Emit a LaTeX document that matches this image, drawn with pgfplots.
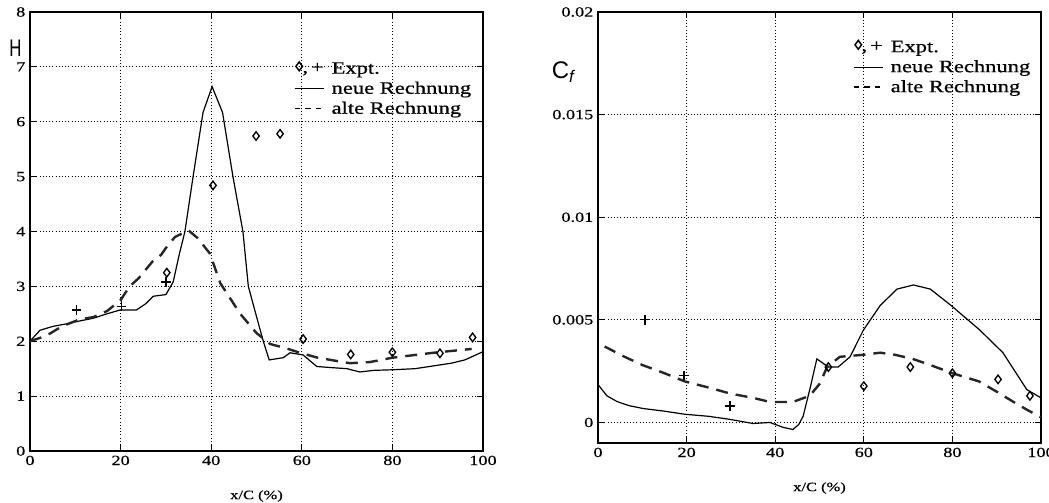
\documentclass[border=0pt]{standalone}
\usepackage{fontspec}
\setmainfont{Liberation Serif}
\newfontfamily\scanfont[FakeStretch=1.3, FakeBold=0.6]{Liberation Serif}
\newfontfamily\handfont{Liberation Sans}
\usepackage{pgfplots}
\pgfplotsset{compat=1.18}

\pgfplotsset{
  scan/.style={
    scale only axis, anchor=south west, clip mode=individual,
    xmin=0, xmax=100, xtick={0,20,...,100},
    grid=major, grid style={dotted, black, line width=0.6pt},
    axis line style={line width=1.1pt},
    tick style={black, line width=0.8pt},
    tick label style={font=\scanfont\fontsize{10.5}{11}\selectfont},
    /pgf/number format/assume math mode=true,
    xlabel={x/C (\%)}, xlabel style={font=\scanfont\fontsize{9.5}{10}\selectfont, yshift=-12pt},
    legend cell align=left,
    legend style={draw=none, fill=none, inner sep=0pt, column sep=3pt,
                  font=\scanfont\fontsize{13}{15}\selectfont, row sep=0.5pt},
  },
  neu/.style={black, line width=0.9pt},
  alt/.style={black!85, line width=1.8pt, dash pattern=on 9pt off 6pt},
  expd/.style={only marks, mark=diamond, mark size=3.2pt, black, line width=1pt},
  expp/.style={only marks, mark=+, mark size=3.5pt, black, line width=0.9pt},
  legexp/.style={legend image code/.code={
      \draw[mark=diamond, mark size=3.3pt, line width=1.1pt] plot coordinates {(0.12cm,0.07cm)};
      \node[anchor=base west, inner sep=0pt, font=\scanfont\fontsize{13}{15}\selectfont]
        at (0.2cm,-0.1cm) {,\,+};}},
  legneu/.style={legend image code/.code={\draw[line width=0.9pt] (0cm,0cm) -- (0.78cm,0cm);}},
  legalt/.style={legend image code/.code={\draw[line width=1.1pt, dash pattern=on 4pt off 4pt] (0cm,0cm) -- (0.78cm,0cm);}},
}

\begin{document}
\begin{tikzpicture}
\useasboundingbox (0,0) rectangle (786.75pt,377.25pt);

% ---- left: shape factor H
\begin{axis}[scan, at={(22.5pt,39pt)}, width=339.75pt, height=329.25pt,
  ymin=0, ymax=8, ytick={0,1,...,8},
  legend style={at={(0.582,0.892)}, anchor=north west}]
  \addlegendimage{legexp}\addlegendentry{Expt.}
  \addlegendimage{legneu}\addlegendentry{neue Rechnung}
  \addlegendimage{legalt}\addlegendentry{alte Rechnung}

  \addplot[neu, forget plot] coordinates {
    (0,2.0)(2.2,2.2)(5,2.27)(8.2,2.32)(11,2.37)(14,2.42)(17,2.5)(19.9,2.57)
    (23.5,2.57)(25.5,2.68)(27.2,2.82)(30,2.85)(31.6,3.08)(33,3.6)(34.2,4.0)
    (36,5.0)(38.2,6.17)(40.2,6.64)(42.5,6.17)(44.8,5.0)(47,4.0)(48.2,3.0)
    (50,2.45)(51.5,2.0)(52.8,1.66)(55.9,1.70)(57.4,1.79)(60.3,1.75)(63.3,1.54)
    (66.5,1.52)(70,1.50)(72.8,1.44)(76,1.47)(80,1.48)(85,1.5)(89,1.55)
    (93,1.6)(96,1.66)(100,1.81)};
  \addplot[alt, forget plot] coordinates {
    (0,2.0)(3.6,2.1)(7,2.27)(11,2.4)(14,2.44)(17,2.55)(20,2.75)(22,3.0)
    (24,3.15)(27,3.45)(29,3.58)(30,3.7)(32,3.9)(35,4.02)(37,3.88)(39.7,3.6)
    (42,3.06)(46.4,2.5)(50,2.15)(53,1.95)(56.6,1.87)(60,1.78)(63.5,1.7)
    (70.6,1.6)(75,1.62)(80,1.7)(89,1.79)(97.5,1.86)};
  \addplot[expd, forget plot] coordinates {
    (30.2,3.25)(40.4,4.84)(49.9,5.74)(55.2,5.78)(60.3,2.04)(70.8,1.76)
    (80,1.8)(90.5,1.78)(97.7,2.07)};
  \addplot[expp, forget plot] coordinates {
    (10.3,2.57)(20.2,2.64)(30,3.08)};

  \node[anchor=center, xscale=0.7, transform shape,
        font=\handfont\fontsize{18}{18}\selectfont]
    at (rel axis cs:-0.032,0.918) {H};
\end{axis}

% ---- right: skin friction Cf
\begin{axis}[scan, at={(448.5pt,45pt)}, width=332.25pt, height=323.25pt,
  ymin=-0.001, ymax=0.02, ytick={0,0.005,0.01,0.015,0.02},
  scaled y ticks=false,
  yticklabel style={/pgf/number format/fixed, /pgf/number format/precision=3},
  legend style={at={(0.575,0.94)}, anchor=north west}]
  \addlegendimage{legexp}\addlegendentry{Expt.}
  \addlegendimage{legneu}\addlegendentry{neue Rechnung}
  \addlegendimage{legalt}\addlegendentry{alte Rechnung}

  \addplot[neu, forget plot] coordinates {
    (0,0.00185)(2,0.0013)(4.3,0.00102)(7,0.00082)(10.2,0.00068)(15,0.00055)
    (19.6,0.0004)(25,0.0003)(29.8,0.00015)(35,-0.00005)(38.8,0.0)
    (41.8,-0.00024)(44,-0.00034)(45.3,-0.0001)(46.3,0.0003)(47.8,0.0016)
    (49.4,0.0031)(52,0.0027)(54.2,0.0027)(56.9,0.0032)(59.9,0.0045)
    (63.7,0.0057)(67.5,0.0065)(71.2,0.0067)(75,0.0065)(79.7,0.0057)
    (86.2,0.0045)(91.4,0.0034)(96.8,0.0016)(100,0.0012)};
  \addplot[alt, forget plot] coordinates {
    (1.5,0.0037)(6,0.0032)(10,0.0028)(15,0.0024)(19.6,0.0020)(25,0.0017)
    (30,0.0014)(35,0.0012)(38.8,0.0010)(44,0.0010)(47.8,0.0013)(50.1,0.0019)
    (51.7,0.0027)(54.6,0.0032)(60,0.0033)(63.7,0.0034)(67,0.0033)(71,0.0031)
    (75,0.0028)(80,0.0024)(86,0.0020)(90,0.0015)(93.8,0.0010)(97,0.0006)
    (100,0.00025)};
  \addplot[expd, forget plot] coordinates {
    (52,0.0027)(60,0.00177)(70.5,0.0027)(80,0.0024)(90.3,0.0021)(97.5,0.0013)};
  \addplot[expp, forget plot] coordinates {
    (10.6,0.005)(19.4,0.0023)(29.8,0.0008)};

  \node[anchor=center, font=\handfont\fontsize{18}{18}\selectfont]
    at (rel axis cs:-0.077,0.861) {C\textsubscript{\textit{f}}};
\end{axis}
\end{tikzpicture}
\end{document}
